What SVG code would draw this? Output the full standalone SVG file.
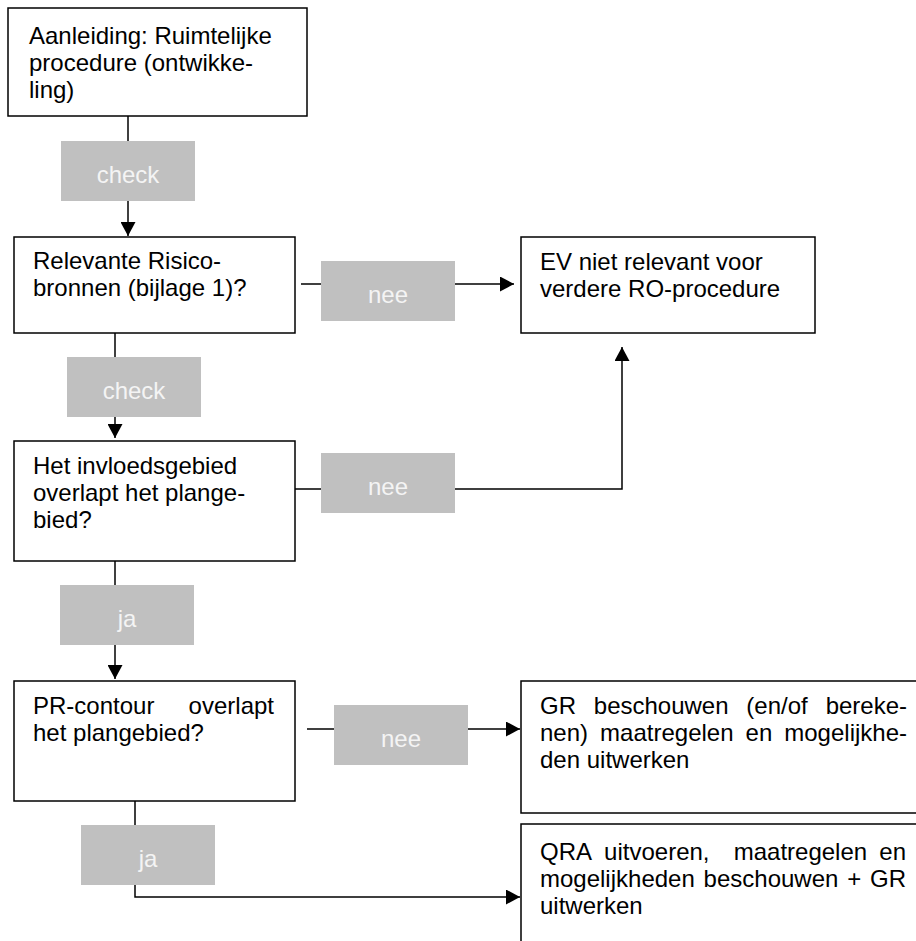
<svg xmlns="http://www.w3.org/2000/svg" width="916" height="941" viewBox="0 0 916 941">
<style>
.box{fill:#fff;stroke:#000;stroke-width:1.5}
.lbl{fill:#c0c0c0;stroke:none}
.t{font-family:"Liberation Sans",Arial,sans-serif;font-size:24px;fill:#000}
.lt{font-family:"Liberation Sans",Arial,sans-serif;font-size:24px;fill:#f4f4f4;text-anchor:middle}
.c{fill:none;stroke:#000;stroke-width:1.5}
</style>
<defs>
<marker id="ah" markerUnits="userSpaceOnUse" markerWidth="15" markerHeight="15" refX="14" refY="7.5" orient="auto">
<path d="M0,0 L14,7.5 L0,15 Z" fill="#000"/>
</marker>
</defs>
<rect width="916" height="941" fill="#fff"/>
<g id="connectors">
<path class="c" d="M128,116 V236" marker-end="url(#ah)"/>
<path class="c" d="M301,284 H514" marker-end="url(#ah)"/>
<path class="c" d="M115,333 V438" marker-end="url(#ah)"/>
<path class="c" d="M295,489 H622 V347" marker-end="url(#ah)"/>
<path class="c" d="M115,561 V679" marker-end="url(#ah)"/>
<path class="c" d="M307,729 H520" marker-end="url(#ah)"/>
<path class="c" d="M135,801 V897 H520" marker-end="url(#ah)"/>
<g id="label-check1"><rect class="lbl" x="61" y="141" width="134" height="60"/><text class="lt" x="128" y="183">check</text></g>
<g id="label-nee1"><rect class="lbl" x="321" y="261" width="134" height="60"/><text class="lt" x="388" y="303">nee</text></g>
<g id="label-check2"><rect class="lbl" x="67" y="357" width="134" height="60"/><text class="lt" x="134" y="399">check</text></g>
<g id="label-nee2"><rect class="lbl" x="321" y="453" width="134" height="60"/><text class="lt" x="388" y="495">nee</text></g>
<g id="label-ja1"><rect class="lbl" x="60" y="585" width="134" height="60"/><text class="lt" x="127" y="627">ja</text></g>
<g id="label-nee3"><rect class="lbl" x="334" y="705" width="134" height="60"/><text class="lt" x="401" y="747">nee</text></g>
<g id="label-ja2"><rect class="lbl" x="81" y="825" width="134" height="60"/><text class="lt" x="148" y="867">ja</text></g>
</g>
<g id="node-aanleiding">
<rect class="box" x="8" y="8" width="299" height="108"/>
<text class="t" x="29" y="44">Aanleiding: Ruimtelijke</text>
<text class="t" x="29" y="71">procedure (ontwikke-</text>
<text class="t" x="29" y="98">ling)</text>
</g>
<g id="node-relevante">
<rect class="box" x="14" y="237" width="281" height="96"/>
<text class="t" x="33" y="269">Relevante Risico-</text>
<text class="t" x="33" y="296">bronnen (bijlage 1)?</text>
</g>
<g id="node-ev">
<rect class="box" x="521" y="237" width="294" height="96"/>
<text class="t" x="540" y="270">EV niet relevant voor</text>
<text class="t" x="540" y="297">verdere RO-procedure</text>
</g>
<g id="node-invloed">
<rect class="box" x="14" y="441" width="281" height="120"/>
<text class="t" x="33" y="474">Het invloedsgebied</text>
<text class="t" x="33" y="501">overlapt het plange-</text>
<text class="t" x="33" y="528">bied?</text>
</g>
<g id="node-pr">
<rect class="box" x="14" y="681" width="281" height="120"/>
<text class="t" x="33" y="714">PR-contour</text>
<text class="t" x="274" y="714" text-anchor="end">overlapt</text>
<text class="t" x="33" y="741">het plangebied?</text>
</g>
<g id="node-gr">
<rect class="box" x="521" y="681" width="410" height="132"/>
<text class="t" y="714"><tspan x="540">GR</tspan><tspan x="593.8">beschouwen</tspan><tspan x="746.3">(en/of</tspan></text>
<text class="t" x="907" y="714" text-anchor="end">bereke-</text>
<text class="t" y="741"><tspan x="540">nen)</tspan><tspan x="600.1">maatregelen</tspan><tspan x="745.6">en</tspan></text>
<text class="t" x="907" y="741" text-anchor="end">mogelijkhe-</text>
<text class="t" x="540" y="768">den uitwerken</text>
</g>
<g id="node-qra">
<rect class="box" x="521" y="824" width="410" height="140"/>
<text class="t" y="860"><tspan x="540">QRA</tspan><tspan x="604.1">uitvoeren,</tspan><tspan x="733.7">maatregelen</tspan></text>
<text class="t" x="906" y="860" text-anchor="end">en</text>
<text class="t" y="887"><tspan x="540">mogelijkheden</tspan><tspan x="703.6">beschouwen</tspan><tspan x="847.2">+</tspan></text>
<text class="t" x="906" y="887" text-anchor="end">GR</text>
<text class="t" x="540" y="914">uitwerken</text>
</g>
</svg>
